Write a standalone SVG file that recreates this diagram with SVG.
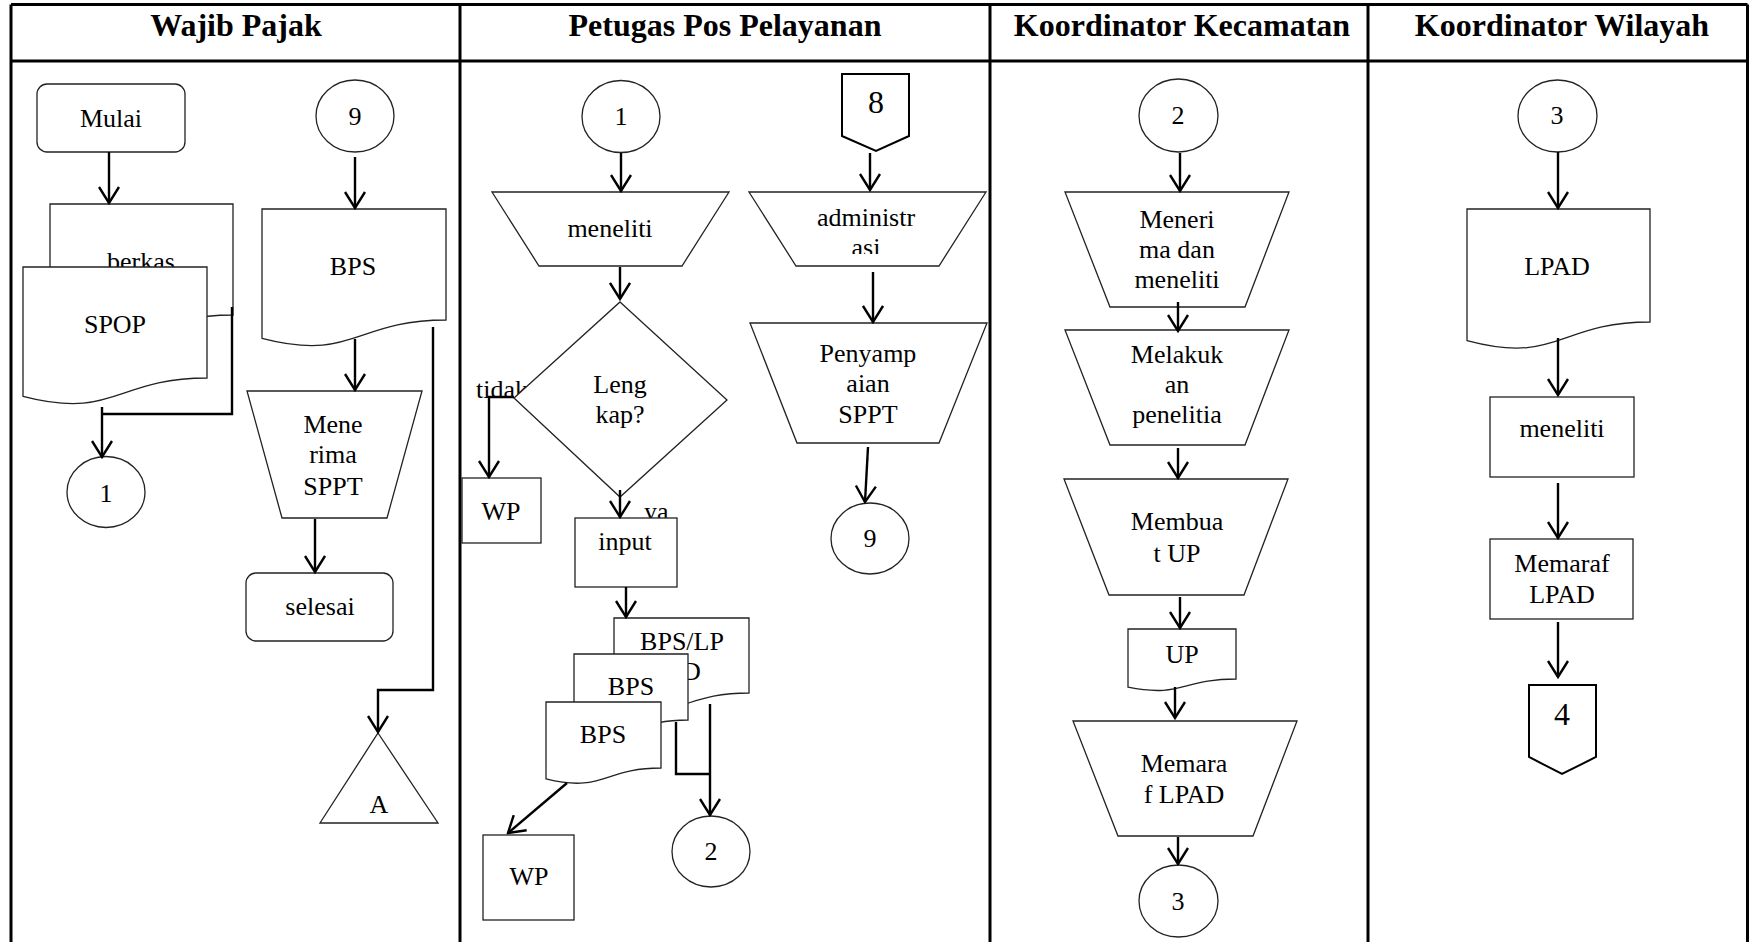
<svg xmlns="http://www.w3.org/2000/svg" width="1749" height="942" viewBox="0 0 1749 942">
  <style>
    .lane { stroke: #000; stroke-width: 3; fill: none; }
    .shape { fill: #fff; stroke: #222; stroke-width: 1.3; }
    .off { fill: #fff; stroke: #000; stroke-width: 2; }
    .conn { fill: none; stroke: #000; stroke-width: 2.4; }
    .arr { marker-end: url(#arrow); }
    text { font-family: "Liberation Serif", "Times New Roman", serif; font-size: 26px; fill: #000; text-anchor: middle; }
    .title { font-size: 32px; font-weight: bold; }
    .big { font-size: 32px; }
    .lbl { text-anchor: start; }
  </style>
  <defs>
    <marker id="arrow" markerUnits="userSpaceOnUse" viewBox="0 -11 19 22" refX="17" refY="0" markerWidth="19" markerHeight="22" orient="auto">
      <path d="M1,-10 L17,0 L1,10" fill="none" stroke="#000" stroke-width="2.4"/>
    </marker>
    <clipPath id="clipAdm">
      <rect x="740" y="180" width="260" height="74"/>
    </clipPath>
  </defs>

  <rect width="1749" height="942" fill="#fff"/>

  <!-- swimlane table -->
  <g id="lanes">
    <path class="lane" d="M11,4.5 H1747.5 M11,61 H1747.5 M11,4.5 V942 M1747.5,4.5 V942 M460,4.5 V942 M990,4.5 V942 M1368,4.5 V942"/>
    <text class="title" x="236" y="36">Wajib Pajak</text>
    <text class="title" x="725" y="36">Petugas Pos Pelayanan</text>
    <text class="title" x="1182" y="36">Koordinator Kecamatan</text>
    <text class="title" x="1562" y="36">Koordinator Wilayah</text>
  </g>

  <!-- branch labels of the decision -->
  <g id="branch-labels">
    <text class="lbl" x="476" y="398">tidak</text>
    <text class="lbl" x="644" y="520">ya</text>
  </g>

  <!-- Wajib Pajak -->
  <g id="mulai">
    <rect class="shape" x="37" y="84" width="148" height="68" rx="10"/>
    <text x="111" y="127">Mulai</text>
  </g>
  <g id="berkas">
    <path class="shape" d="M50,204 H233 V315 C141.5,315 141.5,357.2 50,333.3 Z"/>
    <text x="141" y="270">berkas</text>
  </g>
  <g id="spop">
    <path class="shape" d="M23,267 H207 V378 C115,378 115,420.2 23,396.3 Z"/>
    <text x="115" y="333">SPOP</text>
  </g>
  <g id="con-1-wp">
    <ellipse class="shape" cx="106" cy="492" rx="39" ry="35.5"/>
    <text x="106" y="502">1</text>
  </g>
  <g id="con-9-wp">
    <ellipse class="shape" cx="355" cy="116" rx="39" ry="36"/>
    <text x="355" y="125">9</text>
  </g>
  <g id="bps-wp">
    <path class="shape" d="M262,209 H446 V320 C354,320 354,362.2 262,338.3 Z"/>
    <text x="353" y="275">BPS</text>
  </g>
  <g id="menerima-sppt">
    <path class="shape" d="M247,391 H422 L387,518 H282 Z"/>
    <text x="333" y="433">Mene</text>
    <text x="333" y="463">rima</text>
    <text x="333" y="495">SPPT</text>
  </g>
  <g id="selesai">
    <rect class="shape" x="246" y="573" width="147" height="68" rx="10"/>
    <text x="320" y="615">selesai</text>
  </g>
  <g id="arsip-a">
    <path class="shape" d="M378,733 L438,823 L320,823 Z"/>
    <text x="379" y="813">A</text>
  </g>

  <!-- Petugas Pos Pelayanan -->
  <g id="con-1">
    <ellipse class="shape" cx="621" cy="116.5" rx="39" ry="36"/>
    <text x="621" y="125">1</text>
  </g>
  <g id="meneliti-pos">
    <path class="shape" d="M492,192 H729 L682,266 H539 Z"/>
    <text x="610" y="237">meneliti</text>
  </g>
  <g id="lengkap">
    <path class="shape" d="M620,302 L727,400 L620,497 L514,398 Z"/>
    <text x="620" y="393">Leng</text>
    <text x="620" y="423">kap?</text>
  </g>
  <g id="wp-kembali">
    <rect class="shape" x="462" y="478" width="79" height="65"/>
    <text x="501" y="520">WP</text>
  </g>
  <g id="input">
    <rect class="shape" x="575" y="518" width="102" height="69"/>
    <text x="625" y="550">input</text>
  </g>
  <g id="bps-lpad">
    <path class="shape" d="M614,618 H749 V693 C681.5,693 681.5,721.5 614,705.3 Z"/>
    <text x="682" y="650">BPS/LP</text>
    <text x="682" y="680">AD</text>
  </g>
  <g id="bps-2">
    <path class="shape" d="M574,654 H688 V720 C631,720 631,745.1 574,730.9 Z"/>
    <text x="631" y="695">BPS</text>
  </g>
  <g id="bps-1">
    <path class="shape" d="M546,702 H661 V768 C603.5,768 603.5,793.1 546,778.9 Z"/>
    <text x="603" y="743">BPS</text>
  </g>
  <g id="con-2-out">
    <ellipse class="shape" cx="711" cy="851.5" rx="39" ry="35.5"/>
    <text x="711" y="860">2</text>
  </g>
  <g id="wp-arsip">
    <rect class="shape" x="483" y="835" width="91" height="85"/>
    <text x="529" y="885">WP</text>
  </g>
  <g id="off-8">
    <path class="off" d="M842,74 H909 V136 L876,151 L842,136 Z"/>
    <text class="big" x="876" y="113">8</text>
  </g>
  <g id="administrasi">
    <path class="shape" d="M749,192 H986 L939,266 H796 Z"/>
    <text x="866" y="226">administr</text>
    <text x="866" y="256" clip-path="url(#clipAdm)">asi</text>
  </g>
  <g id="penyampaian">
    <path class="shape" d="M750,323 H987 L939,443 H797 Z"/>
    <text x="868" y="362">Penyamp</text>
    <text x="868" y="392">aian</text>
    <text x="868" y="423">SPPT</text>
  </g>
  <g id="con-9-out">
    <ellipse class="shape" cx="870" cy="538.5" rx="39" ry="35.5"/>
    <text x="870" y="547">9</text>
  </g>

  <!-- Koordinator Kecamatan -->
  <g id="con-2-in">
    <ellipse class="shape" cx="1178.5" cy="115.5" rx="39.5" ry="36.5"/>
    <text x="1178" y="124">2</text>
  </g>
  <g id="menerima-meneliti">
    <path class="shape" d="M1065,192 H1289 L1245,307 H1110 Z"/>
    <text x="1177" y="228">Meneri</text>
    <text x="1177" y="258">ma dan</text>
    <text x="1177" y="288">meneliti</text>
  </g>
  <g id="penelitian">
    <path class="shape" d="M1065,330 H1289 L1245,445 H1110 Z"/>
    <text x="1177" y="363">Melakuk</text>
    <text x="1177" y="393">an</text>
    <text x="1177" y="423">penelitia</text>
  </g>
  <g id="membuat-up">
    <path class="shape" d="M1064,479 H1288 L1244,595 H1109 Z"/>
    <text x="1177" y="530">Membua</text>
    <text x="1177" y="562">t UP</text>
  </g>
  <g id="up">
    <path class="shape" d="M1128,629 H1236 V679 C1182,679 1182,698 1128,687.2 Z"/>
    <text x="1182" y="663">UP</text>
  </g>
  <g id="memaraf-kec">
    <path class="shape" d="M1073,721 H1297 L1253,836 H1118 Z"/>
    <text x="1184" y="772">Memara</text>
    <text x="1184" y="803">f LPAD</text>
  </g>
  <g id="con-3-out">
    <ellipse class="shape" cx="1178.5" cy="901" rx="39.5" ry="36"/>
    <text x="1178" y="910">3</text>
  </g>

  <!-- Koordinator Wilayah -->
  <g id="con-3-in">
    <ellipse class="shape" cx="1557.5" cy="116" rx="39.5" ry="36"/>
    <text x="1557" y="124">3</text>
  </g>
  <g id="lpad">
    <path class="shape" d="M1467,209 H1650 V322 C1558.5,322 1558.5,365 1467,340.6 Z"/>
    <text x="1557" y="275">LPAD</text>
  </g>
  <g id="meneliti-wil">
    <rect class="shape" x="1490" y="397" width="144" height="80"/>
    <text x="1562" y="437">meneliti</text>
  </g>
  <g id="memaraf-wil">
    <rect class="shape" x="1490" y="539" width="143" height="80"/>
    <text x="1562" y="572">Memaraf</text>
    <text x="1562" y="603">LPAD</text>
  </g>
  <g id="off-4">
    <path class="off" d="M1529,685 H1596 V757 L1562,774 L1529,757 Z"/>
    <text class="big" x="1562" y="725">4</text>
  </g>

  <!-- flow lines -->
  <g id="connectors">
    <path class="conn arr" d="M109,152 V203"/>
    <path class="conn" d="M232,307 V414 H102"/>
    <path class="conn arr" d="M102,407 V457"/>
    <path class="conn arr" d="M355,157 V208"/>
    <path class="conn arr" d="M355,339 V390"/>
    <path class="conn arr" d="M315,519 V572"/>
    <path class="conn arr" d="M433,327 V690 H378 V732"/>

    <path class="conn arr" d="M621,153 V191"/>
    <path class="conn arr" d="M620,267 V299"/>
    <path class="conn arr" d="M514,397 H489 V477"/>
    <path class="conn arr" d="M620,490 V517"/>
    <path class="conn arr" d="M626,587 V617"/>
    <path class="conn" d="M676,722 V774 H710"/>
    <path class="conn arr" d="M710,704 V815"/>
    <path class="conn arr" d="M567,783 L508,833"/>
    <path class="conn arr" d="M870,153 V190"/>
    <path class="conn arr" d="M873,272 V322"/>
    <path class="conn arr" d="M868,447 L865,502"/>

    <path class="conn arr" d="M1180,153 V191"/>
    <path class="conn arr" d="M1178,302 V331"/>
    <path class="conn arr" d="M1178,448 V478"/>
    <path class="conn arr" d="M1180,597 V628"/>
    <path class="conn arr" d="M1175,687 V718"/>
    <path class="conn arr" d="M1178,837 V864"/>

    <path class="conn arr" d="M1558,152 V208"/>
    <path class="conn arr" d="M1558,338 V395"/>
    <path class="conn arr" d="M1558,483 V538"/>
    <path class="conn arr" d="M1558,622 V677"/>
  </g>
</svg>
